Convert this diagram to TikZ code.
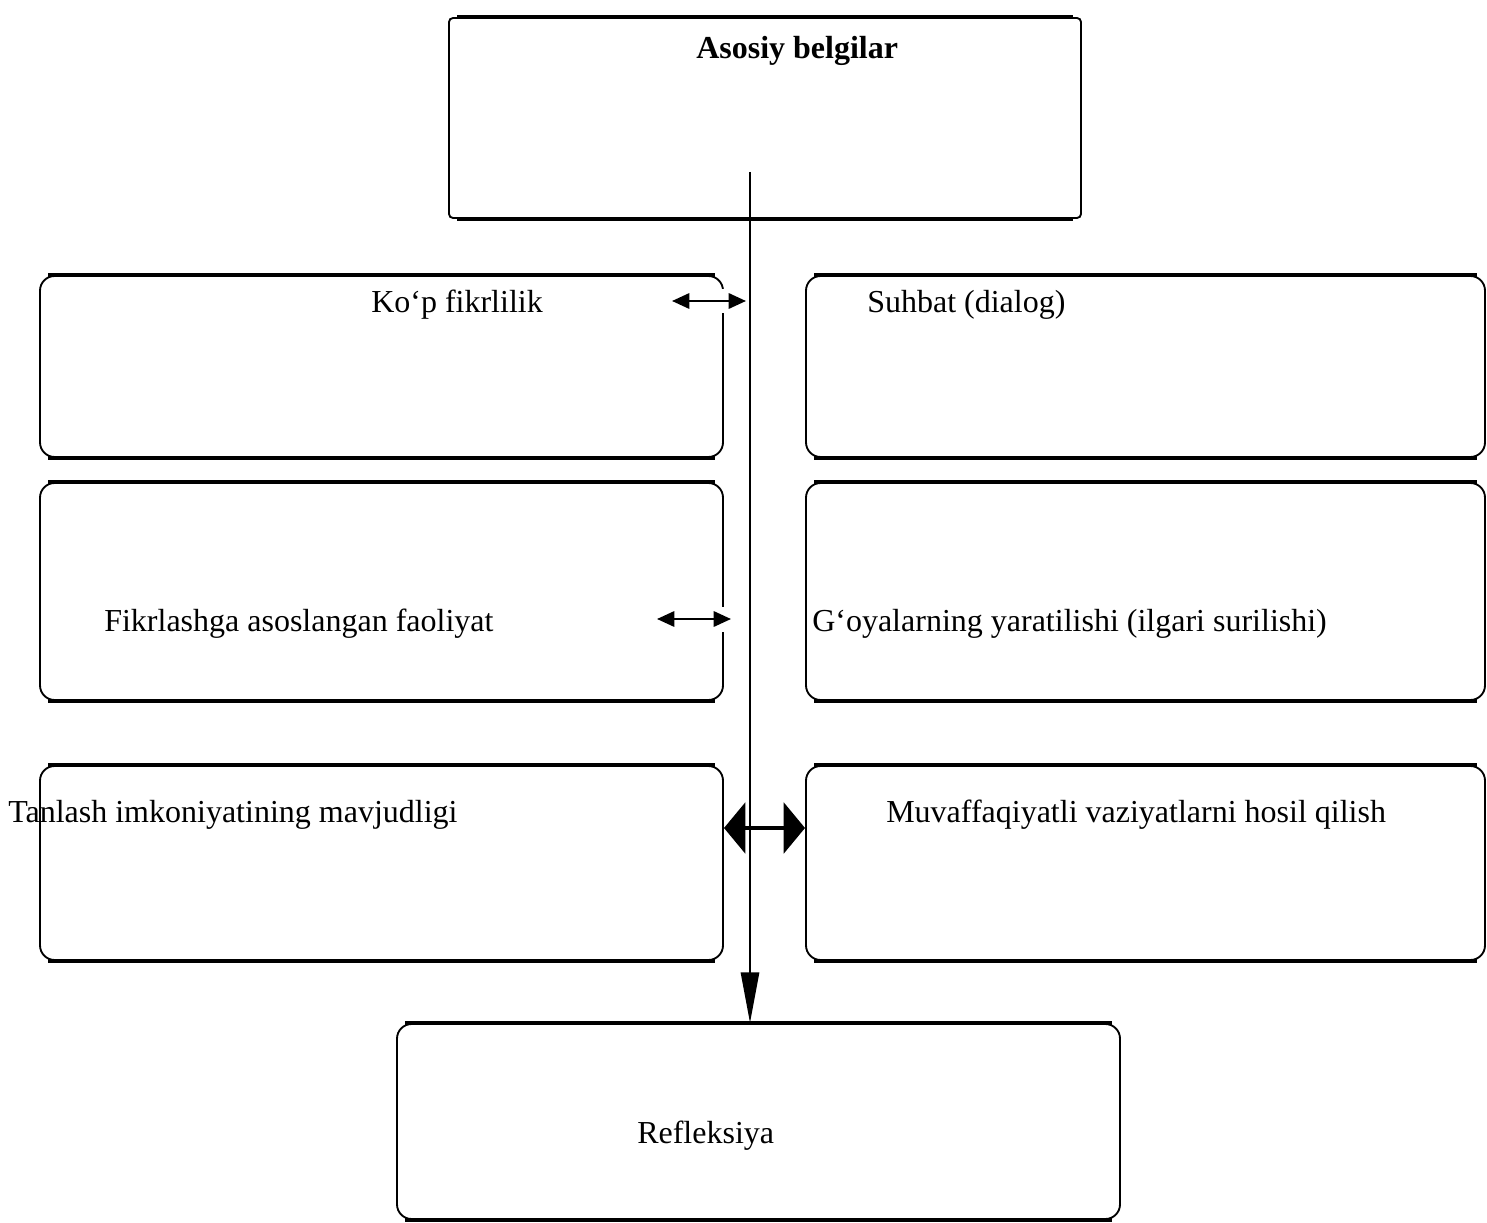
\documentclass[tikz,border=0pt]{standalone}
\usepackage{fontspec}
\setmainfont{Liberation Serif}
\usetikzlibrary{arrows.meta,fit}
\begin{document}
\begin{tikzpicture}[x=0.75pt,y=-0.75pt,
  font=\fontsize{24}{28}\selectfont,
  box/.style={draw, line width=1.4pt, rounded corners=11pt, inner sep=0pt},
  sqbox/.style={draw, line width=1.4pt, rounded corners=3pt, inner sep=0pt},
  lbl/.style={anchor=base west, inner sep=0pt},
  dbl/.style={{Triangle[length=13pt,width=11.5pt]}-{Triangle[length=13pt,width=11.5pt]}, line width=1.7pt},
  bigdbl/.style={{Triangle[length=16pt,width=38pt]}-{Triangle[length=16pt,width=38pt]}, line width=3pt},
  main/.style={-{Triangle[length=38pt,width=13.5pt]}, line width=2.2pt}]
\useasboundingbox (0,0) rectangle (1487,1223);
% boxes
\node[sqbox, fit={(449,18)(1081,218)}] (top) {};
\node[box, fit={(40,276)(723,457)}] (l1) {};
\node[box, fit={(806,276)(1485,457)}] (r1) {};
\node[box, fit={(40,483)(723,700)}] (l2) {};
\node[box, fit={(806,483)(1485,700)}] (r2) {};
\node[box, fit={(40,766)(723,960)}] (l3) {};
\node[box, fit={(806,766)(1485,960)}] (r3) {};
\node[box, fit={(397,1024)(1120,1219)}] (bot) {};
% thicker top/bottom edges
\foreach \b in {top,l1,r1,l2,r2,l3,r3,bot}{
  \draw[line width=3.2pt] ([xshift=7pt]\b.north west) -- ([xshift=-7pt]\b.north east);
  \draw[line width=3.2pt] ([xshift=7pt]\b.south west) -- ([xshift=-7pt]\b.south east);
}
% texts
\node[lbl, font=\fontsize{24}{28}\selectfont\bfseries] (t0) at (696,59) {Asosiy belgilar};
\node[lbl] (t1) at (371,312) {Ko‘p fikrlilik};
\node[lbl] (t2) at (867,312) {Suhbat (dialog)};
\node[lbl] (t3) at (104,631) {Fikrlashga asoslangan faoliyat};
\node[lbl] (t4) at (812,631) {G‘oyalarning yaratilishi (ilgari surilishi)};
\node[lbl] (t5) at (8,822) {Tanlash imkoniyatining mavjudligi};
\node[lbl] (t6) at (886,822) {Muvaffaqiyatli vaziyatlarni hosil qilish};
\node[lbl] (t7) at (637,1143) {Refleksiya};
% small arrows with white backing
\coordinate (a1l) at (672,301);
\coordinate (a1r) at (746,301);
\coordinate (a2l) at (657,619);
\coordinate (a2r) at (731,619);
\coordinate (a3l) at (724,828);
\coordinate (a3r) at (805,828);
\fill[white] (667,289) rectangle (748,313);
\fill[white] (652,607) rectangle (733,632);
\draw[dbl] (a1l) -- (a1r);
\draw[dbl] (a2l) -- (a2r);
\draw[bigdbl] (a3l) -- (a3r);
% main vertical connector
\coordinate (vtop) at (750,172);
\draw[main] (vtop) -- (vtop |- bot.north);
\end{tikzpicture}
\end{document}
